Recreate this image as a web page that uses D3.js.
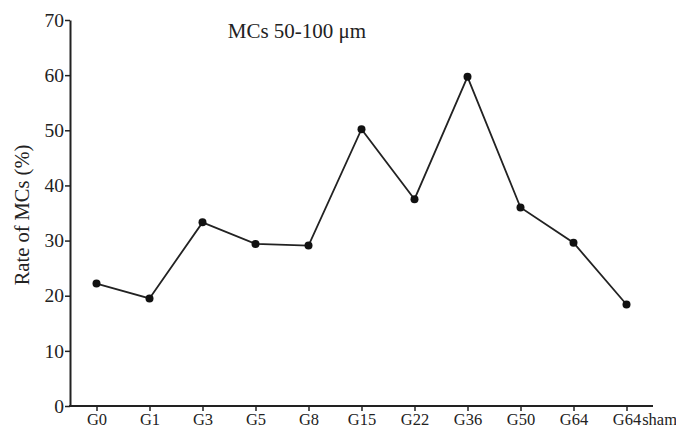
<!DOCTYPE html>
<html>
<head>
<meta charset="utf-8">
<script src="https://cdn.jsdelivr.net/npm/d3@7"></script>
<style>
  body { margin: 0; background: #fff; }
  text { font-family: "Liberation Serif", "DejaVu Serif", serif; fill: #222; }
</style>
</head>
<body>
<svg id="chart" width="676" height="433"></svg>
<script>
// chart data
var groups = ["G0", "G1", "G3", "G5", "G8", "G15", "G22", "G36", "G50", "G64", "G64sham"];
var rates = [22.2, 19.5, 33.3, 29.4, 29.1, 50.2, 37.5, 59.7, 36.0, 29.6, 18.4];
var yTicks = [0, 10, 20, 30, 40, 50, 60, 70];

(function(){
    var svg = d3.select('#chart');
    var mLeft = 70, mRight = 653, mTop = 20, mBottom = 406;

    var x = d3.scalePoint().domain(groups).range([mLeft, mRight]).padding(0.5);
    var y = d3.scaleLinear().domain([0, 70]).range([mBottom, mTop]);

    // y axis
    var yAxis = svg.append('g')
        .attr('transform', 'translate(' + mLeft + ',0)')
        .call(d3.axisLeft(y).tickValues(yTicks).tickSize(5).tickSizeOuter(0).tickPadding(1));
    yAxis.select('.domain').attr('stroke', '#222').attr('stroke-width', 2);
    yAxis.selectAll('.tick line').attr('stroke', '#222').attr('stroke-width', 1.5);
    yAxis.selectAll('.tick text').style('font-size', '19.5px');

    // x axis
    var xAxis = svg.append('g')
        .attr('transform', 'translate(0,' + mBottom + ')')
        .call(d3.axisBottom(x).tickSize(5).tickSizeOuter(0).tickPadding(2));
    xAxis.select('.domain').attr('stroke', '#222').attr('stroke-width', 2)
        .attr('d', 'M' + (mLeft - 1) + ',0H' + mRight);
    xAxis.selectAll('.tick line').attr('stroke', '#222').attr('stroke-width', 1.5);
    xAxis.selectAll('.tick text').style('font-size', '16.5px');

    // last label: "G64" centred on the tick, "sham" runs on to the right
    xAxis.selectAll('.tick text').filter(function(d){ return d === 'G64sham'; })
        .each(function(){
            var t = d3.select(this);
            t.text('G64');
            var w = this.getComputedTextLength();
            t.attr('text-anchor', 'start').attr('x', -w / 2);
            t.append('tspan').attr('dx', 1).text('sham');
        });

    // line
    var line = d3.line()
        .x(function(d, i){ return x(groups[i]); })
        .y(function(d){ return y(d); });

    svg.append('path')
        .datum(rates)
        .attr('fill', 'none')
        .attr('stroke', '#222')
        .attr('stroke-width', 1.8)
        .attr('d', line);

    svg.selectAll('circle.pt')
        .data(rates)
        .enter().append('circle')
        .attr('class', 'pt')
        .attr('cx', function(d, i){ return x(groups[i]); })
        .attr('cy', function(d){ return y(d); })
        .attr('r', 4)
        .attr('fill', '#111');

    // titles
    svg.append('text')
        .attr('x', 297).attr('y', 38)
        .attr('text-anchor', 'middle')
        .style('font-size', '21px')
        .text('MCs 50-100 \u03bcm');

    svg.append('text')
        .attr('transform', 'translate(29,215) rotate(-90)')
        .attr('text-anchor', 'middle')
        .style('font-size', '20.5px')
        .text('Rate of MCs (%)');
}());
</script>
</body>
</html>
